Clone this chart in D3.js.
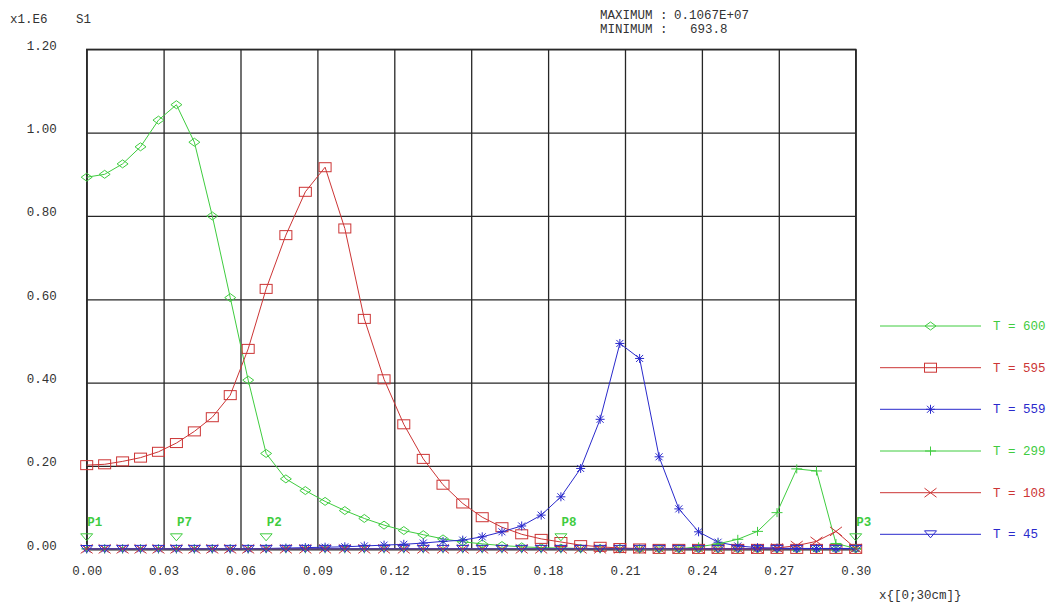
<!DOCTYPE html>
<html>
<head>
<meta charset="utf-8">
<script src="https://cdn.jsdelivr.net/npm/d3@7"></script>
<style>
  html, body { margin: 0; padding: 0; background: #fff; }
  svg { display: block; }
  text { font-family: "Liberation Mono", "DejaVu Sans Mono", monospace; font-size: 12.5px; }
</style>
</head>
<body>
<svg id="chart" width="1051" height="602"></svg>
<script>
// ---- data ----
const xNodes = [0, 0.007, 0.014, 0.021, 0.028, 0.035, 0.042, 0.049, 0.056, 0.063, 0.070,
  0.0777, 0.0853, 0.093, 0.1007, 0.1083, 0.116, 0.1237, 0.1313, 0.139, 0.1467,
  0.1543, 0.162, 0.1697, 0.1773, 0.185, 0.1927, 0.2003, 0.208, 0.2157, 0.2233,
  0.231, 0.2387, 0.2463, 0.254, 0.2617, 0.2693, 0.277, 0.2847, 0.2923, 0.300];

const seriesNames = ["T = 600", "T = 595", "T = 559", "T = 299", "T = 108", "T = 45"];

const t600 = [0.893, 0.900, 0.925, 0.966, 1.030, 1.067, 0.977, 0.800, 0.604, 0.406, 0.230,
  0.169, 0.141, 0.115, 0.093, 0.074, 0.058, 0.045, 0.035, 0.025, 0.018,
  0.013, 0.009, 0.006, 0.004, 0.003, 0.002, 0.002, 0.002, 0.001, 0.001,
  0.001, 0.001, 0.001, 0.001, 0.001, 0.001, 0.001, 0.001, 0.001, 0.001];
const t595 = [0.202, 0.204, 0.211, 0.220, 0.234, 0.255, 0.283, 0.317, 0.370, 0.481, 0.625,
  0.754, 0.858, 0.917, 0.770, 0.553, 0.408, 0.300, 0.217, 0.155, 0.110,
  0.077, 0.053, 0.036, 0.025, 0.0175, 0.010, 0.006, 0.003, 0.002, 0.001,
  0.001, 0.001, 0.001, 0.001, 0.001, 0.001, 0.001, 0.001, 0.001, 0.001];
const t559 = [0.001, 0.001, 0.001, 0.001, 0.001, 0.001, 0.001, 0.001, 0.001, 0.001, 0.002,
  0.003, 0.004, 0.005, 0.006, 0.008, 0.010, 0.012, 0.015, 0.019, 0.022,
  0.030, 0.042, 0.056, 0.082, 0.126, 0.194, 0.312, 0.494, 0.458, 0.222,
  0.097, 0.042, 0.017, 0.008, 0.004, 0.003, 0.002, 0.002, 0.002, 0.002];
const t299 = [0.001, 0.001, 0.001, 0.001, 0.001, 0.001, 0.001, 0.001, 0.001, 0.001, 0.001,
  0.001, 0.001, 0.001, 0.001, 0.001, 0.001, 0.001, 0.001, 0.001, 0.001,
  0.001, 0.001, 0.001, 0.001, 0.001, 0.001, 0.001, 0.001, 0.001, 0.001,
  0.001, 0.006, 0.013, 0.024, 0.043, 0.088, 0.193, 0.188, 0.014, 0.002];
const t108 = [0.001, 0.001, 0.001, 0.001, 0.001, 0.001, 0.001, 0.001, 0.001, 0.001, 0.001,
  0.001, 0.001, 0.001, 0.001, 0.001, 0.001, 0.001, 0.001, 0.001, 0.001,
  0.001, 0.001, 0.001, 0.001, 0.001, 0.001, 0.001, 0.001, 0.001, 0.001,
  0.001, 0.001, 0.001, 0.001, 0.001, 0.003, 0.009, 0.019, 0.043, 0.002];
const t45 = [0.0007, 0.001, 0.001, 0.001, 0.001, 0.001, 0.001, 0.001, 0.001, 0.001, 0.001,
  0.001, 0.001, 0.001, 0.001, 0.001, 0.001, 0.001, 0.001, 0.001, 0.001,
  0.001, 0.001, 0.001, 0.001, 0.001, 0.001, 0.001, 0.001, 0.001, 0.001,
  0.001, 0.001, 0.001, 0.001, 0.001, 0.001, 0.001, 0.001, 0.001, 0.001];

const xTicks = [0, 0.03, 0.06, 0.09, 0.12, 0.15, 0.18, 0.21, 0.24, 0.27, 0.30];
const yTicks = [0, 0.2, 0.4, 0.6, 0.8, 1.0, 1.2];

const pointNames = ["P1", "P7", "P2", "P8", "P3"];
const pointX = [0, 0.035, 0.07, 0.185, 0.30];

// ---- styles ----
const GREEN = "#3fcc3f", RED = "#cc3535", BLUE = "#2a2acc";
const seriesValues = [t600, t595, t559, t299, t108, t45];
const seriesColors = [GREEN, RED, BLUE, GREEN, RED, BLUE];
const seriesMarkers = ["diamond", "square", "star", "plus", "cross", "tri"];

const svg = d3.select("#chart");
const L = 86.7, R = 855.7, T = 49.3, B = 549.3;
const x = d3.scaleLinear().domain([0, 0.30]).range([L, R]);
const y = d3.scaleLinear().domain([0, 1.2]).range([B, T]);

// grid
svg.append("g").attr("transform", `translate(0,${B})`)
  .call(d3.axisBottom(x).tickValues(xTicks).tickSize(-(B - T)).tickFormat(""))
  .call(g => g.select(".domain").remove())
  .call(g => g.selectAll("line").attr("stroke", "#262626").attr("stroke-width", 1.3));
svg.append("g").attr("transform", `translate(${L},0)`)
  .call(d3.axisLeft(y).tickValues(yTicks).tickSize(-(R - L)).tickFormat(""))
  .call(g => g.select(".domain").remove())
  .call(g => g.selectAll("line").attr("stroke", "#262626").attr("stroke-width", 1.3));
svg.append("rect").attr("x", L).attr("y", T).attr("width", R - L).attr("height", B - T)
  .attr("fill", "none").attr("stroke", "#262626").attr("stroke-width", 1.3);

// axis labels
const fmt = d3.format(".2f");
svg.append("g").attr("transform", `translate(0,${B})`)
  .call(d3.axisBottom(x).tickValues(xTicks).tickSize(0).tickPadding(0).tickFormat(fmt))
  .call(g => g.select(".domain").remove())
  .call(g => g.selectAll("text").attr("y", 26).attr("dy", 0).attr("fill", "#333")
    .style("font-family", "Liberation Mono").style("font-size", "12.5px"));
svg.append("g").attr("transform", `translate(${L},0)`)
  .call(d3.axisLeft(y).tickValues(yTicks).tickSize(0).tickPadding(30).tickFormat(fmt))
  .call(g => g.select(".domain").remove())
  .call(g => g.selectAll("text").attr("dy", 0).attr("fill", "#333")
    .style("font-family", "Liberation Mono").style("font-size", "12.5px"));

// header texts
svg.append("text").attr("x", 10).attr("y", 23).attr("fill", "#333").text("x1.E6");
svg.append("text").attr("x", 76).attr("y", 23).attr("fill", "#333").text("S1");
svg.append("text").attr("x", 600).attr("y", 19).attr("fill", "#333").text("MAXIMUM :");
svg.append("text").attr("x", 674).attr("y", 19).attr("fill", "#333").text("0.1067E+07");
svg.append("text").attr("x", 600).attr("y", 32.5).attr("fill", "#333").text("MINIMUM :");
svg.append("text").attr("x", 690).attr("y", 32.5).attr("fill", "#333").text("693.8");
svg.append("text").attr("x", 879).attr("y", 599).attr("fill", "#333").text("x{[0;30cm]}");

// markers
function drawMarker(g, type, cx, cy, color) {
  const s = g.append("g").attr("transform", `translate(${cx},${cy})`)
    .attr("fill", "none").attr("stroke", color).attr("stroke-width", 1);
  if (type === "diamond") {
    s.append("path").attr("d", "M-5.5,0L0,-4L5.5,0L0,4Z");
  } else if (type === "square") {
    s.append("rect").attr("x", -6).attr("y", -4.5).attr("width", 12).attr("height", 9);
  } else if (type === "star") {
    s.append("path").attr("d", "M0,-4.5V4.5M-4.5,0H4.5M-3.5,-3.5L3.5,3.5M-3.5,3.5L3.5,-3.5");
  } else if (type === "plus") {
    s.append("path").attr("d", "M-5.5,0H5.5M0,-4.5V4.5");
  } else if (type === "cross") {
    s.append("path").attr("d", "M-6,-4.5L6,4.5M-6,4.5L6,-4.5");
  } else if (type === "tri") {
    s.append("path").attr("d", "M-6,-3.5L6,-3.5L0,3.5Z");
  }
}

const line = d3.line().x((d, i) => x(xNodes[i])).y(d => y(d));

seriesValues.forEach((vals, k) => {
  const g = svg.append("g");
  g.append("path").datum(vals).attr("d", line).attr("fill", "none")
    .attr("stroke", seriesColors[k]).attr("stroke-width", 1);
  vals.forEach((v, i) => drawMarker(g, seriesMarkers[k], x(xNodes[i]), y(v), seriesColors[k]));
});

// point annotations
pointX.forEach((px, i) => {
  const cx = x(px);
  svg.append("path").attr("d", `M${cx - 6},${B - 15.5}L${cx + 6},${B - 15.5}L${cx},${B - 8.5}Z`)
    .attr("fill", "none").attr("stroke", GREEN).attr("stroke-width", 1);
  svg.append("text").attr("x", cx + 0.5).attr("y", B - 23).attr("fill", GREEN)
    .style("font-weight", "bold").text(pointNames[i]);
});

// legend
const legY = [326, 367.7, 409.3, 451, 492.7, 534.3];
seriesNames.forEach((name, k) => {
  const ly = legY[k];
  svg.append("line").attr("x1", 880).attr("x2", 981).attr("y1", ly).attr("y2", ly)
    .attr("stroke", seriesColors[k]).attr("stroke-width", 1);
  drawMarker(svg, seriesMarkers[k], 930.5, ly, seriesColors[k]);
  svg.append("text").attr("x", 993).attr("y", ly + 4).attr("fill", seriesColors[k]).text(name);
});
</script>
</body>
</html>
